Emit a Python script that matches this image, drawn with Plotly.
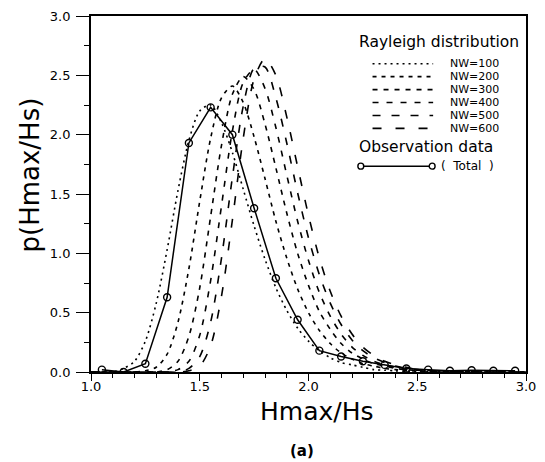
import plotly.graph_objects as go

# Hmax/Hs grid for the theoretical curves
ratio = [1.00, 1.05, 1.10, 1.15, 1.20, 1.25, 1.30, 1.35, 1.40, 1.45, 1.50,
         1.55, 1.60, 1.65, 1.70, 1.75, 1.80, 1.85, 1.90, 1.95, 2.00, 2.05,
         2.10, 2.15, 2.20, 2.25, 2.30, 2.35, 2.40, 2.45, 2.50, 2.60, 2.80, 3.00]

# Rayleigh distribution of the maximum wave height for NW waves
nw_100 = [0.00, 0.00, 0.00, 0.03, 0.09, 0.26, 0.58, 1.03, 1.53, 1.95, 2.20,
          2.25, 2.10, 1.85, 1.54, 1.23, 0.95, 0.71, 0.52, 0.37, 0.26, 0.18,
          0.12, 0.08, 0.06, 0.04, 0.02, 0.015, 0.01, 0.006, 0.004, 0.0, 0.0, 0.0]
nw_200 = [0.00, 0.00, 0.00, 0.00, 0.00, 0.01, 0.04, 0.15, 0.42, 0.87, 1.44,
          1.97, 2.31, 2.41, 2.27, 1.98, 1.63, 1.27, 0.96, 0.70, 0.50, 0.35,
          0.24, 0.16, 0.11, 0.07, 0.05, 0.03, 0.02, 0.01, 0.008, 0.0, 0.0, 0.0]
nw_300 = [0.00, 0.00, 0.00, 0.00, 0.00, 0.00, 0.00, 0.02, 0.09, 0.30, 0.71,
          1.31, 1.91, 2.34, 2.49, 2.38, 2.09, 1.72, 1.34, 1.00, 0.73, 0.51,
          0.36, 0.24, 0.16, 0.11, 0.07, 0.05, 0.03, 0.02, 0.011, 0.003, 0.0, 0.0]
nw_400 = [0.00, 0.00, 0.00, 0.00, 0.00, 0.00, 0.00, 0.00, 0.02, 0.09, 0.31,
          0.77, 1.40, 2.03, 2.44, 2.55, 2.39, 2.06, 1.66, 1.27, 0.94, 0.67,
          0.47, 0.32, 0.21, 0.14, 0.09, 0.06, 0.04, 0.02, 0.015, 0.005, 0.0, 0.0]
nw_500 = [0.00, 0.00, 0.00, 0.00, 0.00, 0.00, 0.00, 0.00, 0.00, 0.03, 0.13,
          0.42, 0.96, 1.64, 2.24, 2.56, 2.57, 2.31, 1.93, 1.51, 1.13, 0.82,
          0.58, 0.40, 0.27, 0.18, 0.12, 0.08, 0.05, 0.03, 0.02, 0.007, 0.0, 0.0]
nw_600 = [0.00, 0.00, 0.00, 0.00, 0.00, 0.00, 0.00, 0.00, 0.00, 0.01, 0.05,
          0.22, 0.64, 1.28, 1.97, 2.47, 2.64, 2.50, 2.15, 1.73, 1.32, 0.96,
          0.68, 0.47, 0.32, 0.21, 0.14, 0.09, 0.06, 0.04, 0.02, 0.008, 0.0, 0.0]

# Observation data (Total)
obs_x = [1.05, 1.15, 1.25, 1.35, 1.45, 1.55, 1.65, 1.75, 1.85, 1.95,
         2.05, 2.15, 2.25, 2.35, 2.45, 2.55, 2.65, 2.75, 2.85, 2.95]
obs_y = [0.02, 0.00, 0.07, 0.63, 1.93, 2.23, 2.00, 1.38, 0.79, 0.44,
         0.18, 0.13, 0.09, 0.06, 0.03, 0.02, 0.01, 0.015, 0.01, 0.01]

curve_labels = ["NW=100", "NW=200", "NW=300", "NW=400", "NW=500", "NW=600"]
curve_dashes = ["2px,4px", "4px,5px", "5px,6px", "6px,8px", "8px,11px", "9px,14px"]
curves = [nw_100, nw_200, nw_300, nw_400, nw_500, nw_600]

FONT = "DejaVu Sans"
W, H = 545, 462
L, R, T, B = 91, 9, 14, 90
PW, PH = W - L - R, H - T - B


def fx(px):
    return (px - L) / PW


def fy(py):
    return (H - B - py) / PH


def label(text, px, py, size, anchor="left", angle=0):
    return dict(text=text, x=fx(px), y=fy(py), xref="paper", yref="paper",
                xanchor=anchor, yanchor="middle", showarrow=False, borderpad=0,
                textangle=angle, font=dict(family=FONT, size=size, color="black"))


fig = go.Figure()

for name, dash, vals in zip(curve_labels, curve_dashes, curves):
    fig.add_trace(go.Scatter(
        x=ratio, y=vals, mode="lines", name=name,
        line=dict(color="black", width=1.6, dash=dash, shape="spline", smoothing=0.8),
        showlegend=False,
    ))

fig.add_trace(go.Scatter(
    x=obs_x, y=obs_y, mode="lines+markers", name="( Total )",
    line=dict(color="black", width=1.5),
    marker=dict(symbol="circle-open", size=7, color="black", line=dict(width=1.4)),
    showlegend=False,
))

# Key: headings, line samples and labels
shapes = []
annotations = [label("Rayleigh distribution", 364, 40, 15.5)]
rows = [62, 75, 88, 101, 114, 127]
for name, dash, ry in zip(curve_labels, curve_dashes, rows):
    shapes.append(dict(type="line", xref="paper", yref="paper",
                       x0=fx(379), x1=fx(441), y0=fy(ry), y1=fy(ry),
                       line=dict(color="black", width=1.6, dash=dash)))
    annotations.append(label(name, 457, ry, 11))
annotations.append(label("Observation data", 364, 146, 15.5))
shapes.append(dict(type="line", xref="paper", yref="paper",
                   x0=fx(367), x1=fx(440), y0=fy(165), y1=fy(165),
                   line=dict(color="black", width=1.5)))
for cx in (367, 440):
    shapes.append(dict(type="circle", xref="paper", yref="paper",
                       x0=fx(cx - 3), x1=fx(cx + 3), y0=fy(168), y1=fy(162),
                       fillcolor="white", line=dict(color="black", width=1.4)))
annotations.append(label("(  Total  )", 448, 165, 12))

# Axis titles and panel label
annotations.append(label("Hmax/Hs", 322, 412, 25, anchor="center"))
annotations.append(label("p(Hmax/Hs)", 29, 174, 26, anchor="center", angle=-90))
annotations.append(label("<b>(a)</b>", 307, 451, 15, anchor="center"))

fig.update_layout(
    width=W, height=H,
    margin=dict(l=L, r=R, t=T, b=B),
    paper_bgcolor="white", plot_bgcolor="white",
    font=dict(family=FONT, size=13, color="black"),
    shapes=shapes, annotations=annotations,
    showlegend=False,
)
fig.update_xaxes(
    range=[1.0, 3.0], tickvals=[1.0, 1.5, 2.0, 2.5, 3.0],
    ticktext=["1.0", "1.5", "2.0", "2.5", "3.0"],
    ticks="outside", ticklen=7, tickwidth=1.3, tickcolor="black",
    minor=dict(dtick=0.1, ticks="outside", ticklen=4, tickwidth=1.1, tickcolor="black"),
    showline=True, linecolor="black", linewidth=1.8, mirror=True,
    showgrid=False, zeroline=False, tickfont=dict(family=FONT, size=13),
    ticklabelstandoff=-6,
)
fig.update_yaxes(
    range=[0.0, 3.0], tickvals=[0.0, 0.5, 1.0, 1.5, 2.0, 2.5, 3.0],
    ticktext=["0.0", "0.5", "1.0", "1.5", "2.0", "2.5", "3.0"],
    ticks="outside", ticklen=13, tickwidth=1.3, tickcolor="black",
    minor=dict(dtick=0.25, ticks="outside", ticklen=5, tickwidth=1.1, tickcolor="black"),
    showline=True, linecolor="black", linewidth=1.8, mirror=True,
    showgrid=False, zeroline=False, tickfont=dict(family=FONT, size=13),
    ticklabelstandoff=3,
)

fig.write_html("out.html")
